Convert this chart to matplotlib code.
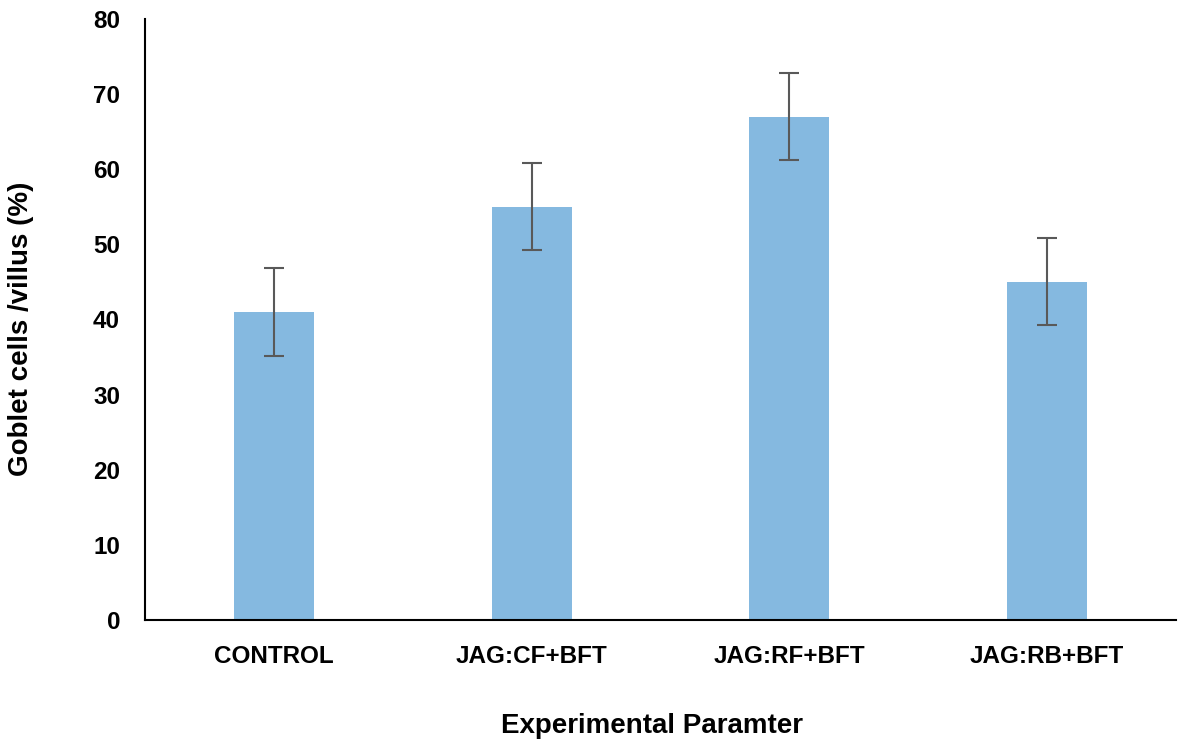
import matplotlib
matplotlib.use("Agg")
import matplotlib.pyplot as plt

categories = ["CONTROL", "JAG:CF+BFT", "JAG:RF+BFT", "JAG:RB+BFT"]
values = [41, 55, 67, 45]
errors = [5.8, 5.8, 5.8, 5.8]
yticks = [0, 10, 20, 30, 40, 50, 60, 70, 80]

plt.rcParams['font.family'] = ['Liberation Sans', 'DejaVu Sans']
fig = plt.figure(figsize=(11.81, 7.44), dpi=100)
ax = fig.add_axes([0.1228, 0.1667, 0.8730, 0.8078])
x = range(len(categories))
ax.bar(x, values, width=0.31, color="#85B9E0", yerr=errors,
       error_kw=dict(ecolor="#595959", elinewidth=1.5, capsize=7, capthick=1.5))
ax.set_xlim(-0.5, 3.5)
ax.set_ylim(0, 80)
ax.set_yticks(yticks)
ax.set_xticks(list(x))
ax.set_xticklabels(categories, fontsize=17.5, fontweight='bold')
ax.set_yticklabels([str(t) for t in yticks], fontsize=17.5, fontweight='bold')
ax.tick_params(length=0)
ax.tick_params(axis='y', pad=18)
ax.tick_params(axis='x', pad=18)
for s in ['top', 'right']:
    ax.spines[s].set_visible(False)
for s in ['left', 'bottom']:
    ax.spines[s].set_linewidth(1.5)
    ax.spines[s].set_color('black')
ax.set_ylabel("Goblet cells /villus (%)", fontsize=20, fontweight='bold')
ax.set_xlabel("Experimental Paramter", fontsize=20, fontweight='bold')
ax.yaxis.set_label_coords(-0.1077, 0.484)
ax.xaxis.set_label_coords(0.4918, -0.155)
fig.savefig("out.png", dpi=100)
